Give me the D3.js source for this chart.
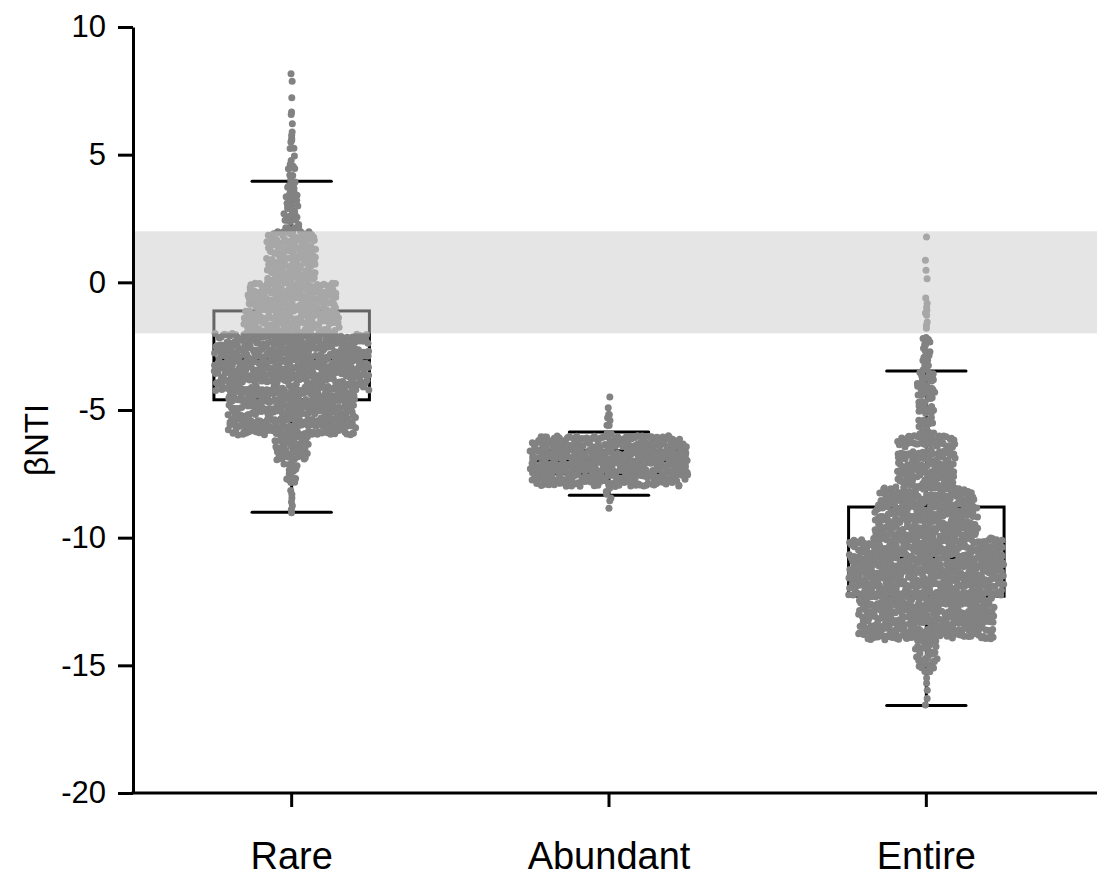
<!DOCTYPE html>
<html><head><meta charset="utf-8">
<script src="https://cdn.jsdelivr.net/npm/d3@7"></script>
<style>body{margin:0;background:#fff} svg{display:block}</style>
</head><body>
<svg id="c" width="1097" height="876"></svg>
<script>
// ---------- data ----------
const categories = ["Rare", "Abundant", "Entire"];
const yTicks = [-20, -15, -10, -5, 0, 5, 10];
const q1 = [-4.6, -7.5, -12.29];
const medians = [-3.0, -7.0, -10.8];
const q3 = [-1.12, -6.6, -8.8];
const whiskerLow = [-9.0, -8.34, -16.57];
const whiskerHigh = [3.96, -5.86, -3.47];
const bandLow = -2, bandHigh = 2;

// point density: number of points in each 0.25-unit row, from the top row down
const rowStep = 0.25;
const rareRowTop = 5.5;
const rareRowCounts = [1,2,2,2,3,3, 4,4,5,5,5,6,6,6, 19,20,19,19,20,19,20,20,
  35,36,36,36, 38,38,38,38, 62,62,62,62,62,62,62,62,62, 51,51,51,51,51,51,51,
  14,14,13,12, 6,4,4,3];
const rareTail = [8.17,7.88,7.23,6.67,6.57,6.21,5.89,5.76,5.63,5.56,
  -8.15,-8.3,-8.45,-8.6,-8.75,-8.9,-9.02];

const abundantRowTop = -4.75;
const abundantRowCounts = [1,2,2,2,2, 58, 63,63,63,63,63,63, 58, 2,2,1];
const abundantTail = [-4.49, -8.85];

const entireRowTop = -2.0;
const entireRowCounts = [3,3,3,3,3,3, 7,7,7,7,6,6,6,6,6,7, 23,23,23,23,23,23,23,23,
  36,38,40,41, 41,41,41,41, 62,62,62,62,62,62,62,62,62, 54,54,54,54,54,54,54,
  9,9,9,8,7];
const entireTail = [1.78,0.86,0.47,0.14,-0.61,-0.82,-0.98,-1.1,-1.2,-1.29,-1.55,-1.68,-1.8,
  -15.5,-15.7,-15.98,-16.3,-16.55];

// ---------- layout ----------
const svg = d3.select("#c");
const font = "'Liberation Sans', Arial, sans-serif";
const x = d3.scaleBand().domain(categories).range([133, 1085]).padding(0);
const y = d3.scaleLinear().domain([-20, 10]).range([793, 27]);
const cx = c => x(c) + x.bandwidth() / 2;
const boxW = x.bandwidth() * 0.49;
const capW = x.bandwidth() * 0.25;
const spacing = 2.5, r = 3.5;
const frac = t => t - Math.floor(t);
const hash = s => frac(Math.sin(s * 12.9898 + 78.233) * 43758.5453);

function buildPoints(gi, top, counts, tail) {
  const pts = [];
  counts.forEach((n, ri) => {
    const yTop = top - ri * rowStep;
    for (let k = 0; k < n; k++) {
      const seed = gi * 10000 + ri * 100 + k;
      const u = hash(seed * 1.37 + 0.5);
      const v = hash(seed * 2.11 + 3.7);
      const dx = (k - (n - 1) / 2) * spacing + (u - 0.5) * 3;
      pts.push({ g: gi, v: yTop - v * rowStep, dx });
    }
  });
  tail.forEach((t, i) => pts.push({ g: gi, v: t, dx: (hash(gi * 50 + i) - 0.5) * 2 }));
  return pts;
}
const points = [].concat(
  buildPoints(0, rareRowTop, rareRowCounts, rareTail),
  buildPoints(1, abundantRowTop, abundantRowCounts, abundantTail),
  buildPoints(2, entireRowTop, entireRowCounts, entireTail)
);

// ---------- boxes & whiskers ----------
const gb = svg.append("g").attr("stroke", "#000").attr("stroke-width", 3).attr("fill", "none");
categories.forEach((c, i) => {
  const xc = cx(c);
  gb.append("rect").attr("x", xc - boxW / 2).attr("y", y(q3[i]))
    .attr("width", boxW).attr("height", y(q1[i]) - y(q3[i]));
  gb.append("line").attr("x1", xc - boxW / 2).attr("x2", xc + boxW / 2)
    .attr("y1", y(medians[i])).attr("y2", y(medians[i]));
  gb.append("line").attr("x1", xc).attr("x2", xc).attr("y1", y(q3[i])).attr("y2", y(whiskerHigh[i]));
  gb.append("line").attr("x1", xc).attr("x2", xc).attr("y1", y(q1[i])).attr("y2", y(whiskerLow[i]));
  gb.append("line").attr("x1", xc - capW / 2).attr("x2", xc + capW / 2)
    .attr("y1", y(whiskerHigh[i])).attr("y2", y(whiskerHigh[i])).attr("stroke-linecap", "round");
  gb.append("line").attr("x1", xc - capW / 2).attr("x2", xc + capW / 2)
    .attr("y1", y(whiskerLow[i])).attr("y2", y(whiskerLow[i])).attr("stroke-linecap", "round");
});

// ---------- points ----------
svg.append("g").selectAll("circle").data(points).join("circle")
  .attr("cx", d => cx(categories[d.g]) + d.dx)
  .attr("cy", d => y(d.v))
  .attr("r", r)
  .attr("fill", "#828282");

// ---------- shaded band (semi-transparent overlay) ----------
svg.append("rect").attr("x", 134.5).attr("width", 1097 - 134.5)
  .attr("y", y(bandHigh)).attr("height", y(bandLow) - y(bandHigh))
  .attr("fill", "#cbcbcb").attr("opacity", 0.5);

// ---------- axes ----------
const ya = svg.append("g").attr("transform", "translate(133,0)")
  .call(d3.axisLeft(y).tickValues(yTicks).tickFormat(d => String(d))
    .tickSize(15).tickSizeOuter(0).tickPadding(12));
ya.selectAll("line,path").attr("stroke", "#000").attr("stroke-width", 3);
ya.selectAll("text").attr("font-size", 31).attr("font-family", font).attr("fill", "#000");

const xa = svg.append("g").attr("transform", "translate(0,793)")
  .call(d3.axisBottom(x).tickSize(14).tickSizeOuter(0).tickPadding(35));
xa.select(".domain").remove();
xa.selectAll("line").attr("stroke", "#000").attr("stroke-width", 3);
xa.selectAll("text").attr("font-size", 38).attr("font-family", font).attr("fill", "#000");
svg.append("line").attr("x1", 131.5).attr("x2", 1097).attr("y1", 793).attr("y2", 793)
  .attr("stroke", "#000").attr("stroke-width", 3);

svg.append("text").attr("transform", "translate(48,440) rotate(-90)")
  .attr("text-anchor", "middle").attr("font-size", 33).attr("font-family", font)
  .text("βNTI");
</script>
</body></html>
